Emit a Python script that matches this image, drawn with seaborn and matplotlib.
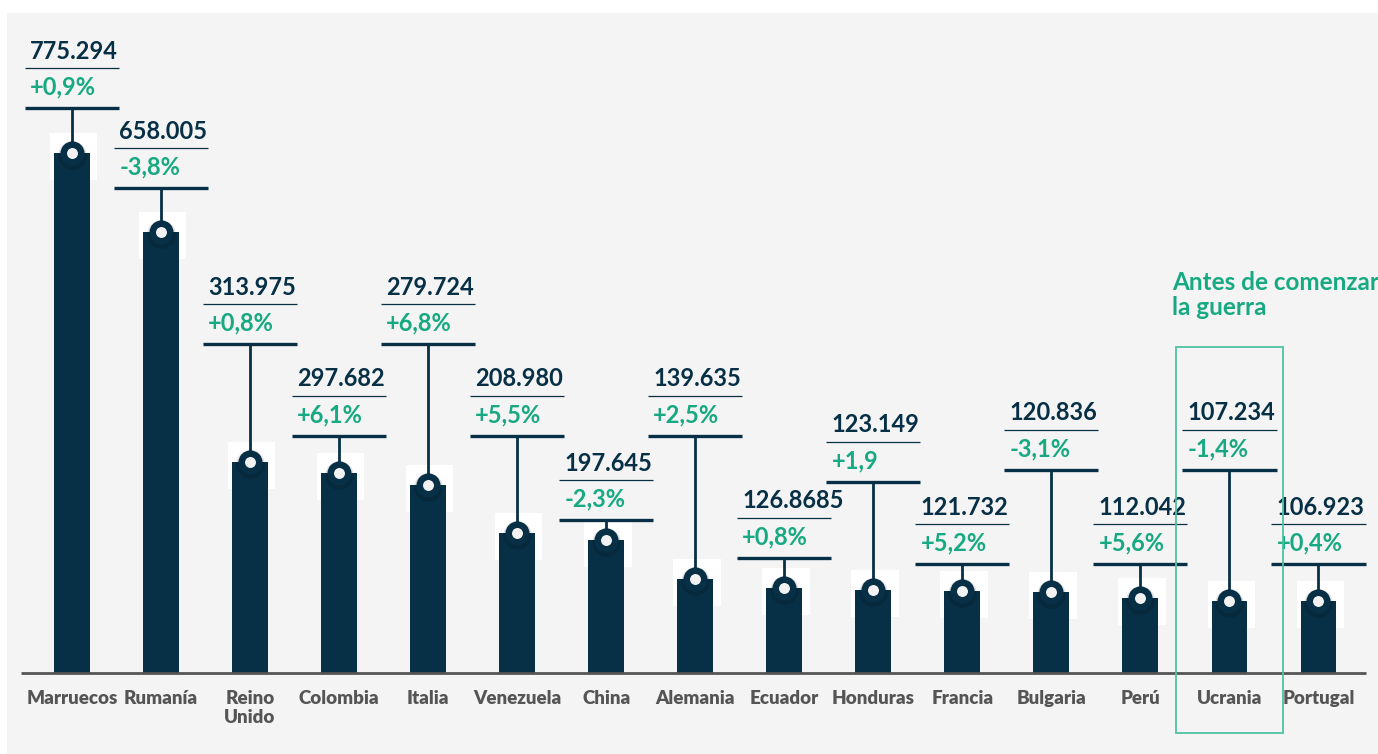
import matplotlib
matplotlib.use("Agg")
import matplotlib.pyplot as plt
import seaborn as sns
from matplotlib.patches import Rectangle

# data
countries = ["Marruecos", "Rumanía", "Reino Unido", "Colombia", "Italia", "Venezuela",
             "China", "Alemania", "Ecuador", "Honduras", "Francia", "Bulgaria",
             "Perú", "Ucrania", "Portugal"]
tick_labels = ["Marruecos", "Rumanía", "Reino\nUnido", "Colombia", "Italia", "Venezuela",
               "China", "Alemania", "Ecuador", "Honduras", "Francia", "Bulgaria",
               "Perú", "Ucrania", "Portugal"]
values = [775294, 658005, 313975, 297682, 279724, 208980, 197645, 139635,
          126868, 123149, 121732, 120836, 112042, 107234, 106923]
value_labels = ["775.294", "658.005", "313.975", "297.682", "279.724", "208.980",
                "197.645", "139.635", "126.8685", "123.149", "121.732", "120.836",
                "112.042", "107.234", "106.923"]
pct_labels = ["+0,9%", "-3,8%", "+0,8%", "+6,1%", "+6,8%", "+5,5%", "-2,3%", "+2,5%",
              "+0,8%", "+1,9", "+5,2%", "-3,1%", "+5,6%", "-1,4%", "+0,4%"]
highlight = "Ucrania"
highlight_text = "Antes de comenzar\nla guerra"

# layout: height (in data units) of the thick line under each label block
label_level = [842000, 723000, 490500, 353400, 490500, 353400, 228100, 353400,
               171500, 284800, 162500, 302700, 162500, 302700, 162500]

navy = "#072f45"
green = "#17a981"
grey = "#555555"
bg = "#f4f4f4"
k = 1491  # data units per pixel

plt.rcParams["font.family"] = ["Lato", "DejaVu Sans"]
plt.rcParams["font.weight"] = "bold"

W, H = 1378, 754
fig = plt.figure(figsize=(W / 100, H / 100), dpi=100)
fig.patch.set_facecolor("white")
# grey panel behind everything
fig.add_artist(Rectangle((7 / W, 0), 1, 741 / H, transform=fig.transFigure,
                         facecolor=bg, edgecolor="none", zorder=-10))
ax = fig.add_axes([7 / W, (H - 673) / H, (W - 7) / W, (673 - 13) / H])
ax.set_facecolor("none")

# white squares behind bar tops
for i, v in enumerate(values):
    ax.add_patch(Rectangle((i - 0.245, v - 27 * k), 0.53, 47 * k,
                           facecolor="white", edgecolor="none", zorder=0.5))

sns.barplot(x=countries, y=values, color=navy, width=0.4, saturation=1, ax=ax, zorder=1)

xs = list(range(len(countries)))
for i, (v, lvl) in enumerate(zip(values, label_level)):
    ax.vlines(i, v, lvl, color=navy, lw=2, zorder=2)
    ax.hlines(lvl, i - 0.53, i + 0.53, color=navy, lw=2.4, zorder=2)
    ax.hlines(lvl + 40 * k, i - 0.53, i + 0.53, color=navy, lw=0.9, zorder=2)
    ax.text(i - 0.47, lvl + 57 * k, value_labels[i], color=navy, fontsize=17,
            fontweight="bold", ha="left", va="center")
    ax.text(i - 0.47, lvl + 21 * k, pct_labels[i], color=green, fontsize=17,
            fontweight="bold", ha="left", va="center")

# circle markers with soft shadow
ax.scatter(xs, [v - 2 * k for v in values], s=420, color="black", alpha=0.12,
           linewidths=0, zorder=3)
ax.scatter(xs, values, s=160, color="#f2f2f2", edgecolors=navy, linewidths=4.7, zorder=4)

ax.hlines(0, -0.57, 14.53, color=grey, lw=2, zorder=3, clip_on=False)

# highlight box
hi = countries.index(highlight)
ax.add_patch(Rectangle((hi - 0.6, -89500), 1.2, 575500, fill=False,
                       edgecolor="#4fc3a1", lw=1.3, zorder=5, clip_on=False))
ax.text(hi - 0.64, 600000, highlight_text, color=green, fontsize=17.5,
        fontweight="bold", ha="left", va="top", linespacing=1.12)

ax.set_xlim(-0.73, 14.67)
ax.set_ylim(0, 984000)
ax.set_xticks(xs)
ax.set_xticklabels(tick_labels, fontsize=13.5, color=grey, fontweight="heavy", linespacing=1.15)
ax.tick_params(axis="x", length=0, pad=12)
ax.set_yticks([])
ax.set_ylabel("")
for s in ax.spines.values():
    s.set_visible(False)

fig.savefig("out.png", dpi=100, facecolor="white")
